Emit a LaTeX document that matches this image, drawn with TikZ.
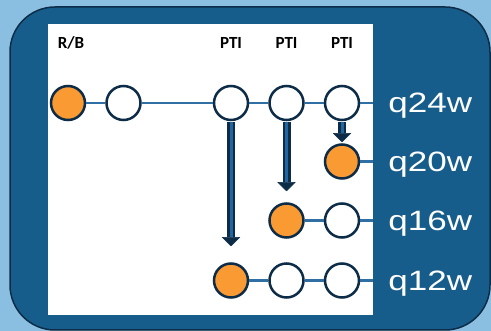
\documentclass[tikz,border=0pt]{standalone}
\usepackage{fontspec}
\newfontfamily\hdfont{Carlito}
\newfontfamily\qfont[FakeStretch=1.25]{Liberation Sans}
\usetikzlibrary{positioning,arrows.meta}
\definecolor{sky}{HTML}{8BBFE1}
\definecolor{frame}{HTML}{175D8C}
\definecolor{navy}{HTML}{0C2C47}
\definecolor{orng}{HTML}{F99A33}
\definecolor{wireblue}{HTML}{2F6FA3}
\definecolor{shaft}{HTML}{2066A0}
\tikzset{
  qb/.style={circle, draw=navy, line width=2.5pt, fill=white,
             minimum size=34pt, inner sep=0pt},
  hd/.style={font=\hdfont\bfseries\fontsize{17}{18}\selectfont, inner sep=0pt},
  lbl/.style={font=\qfont\fontsize{28}{30}\selectfont, text=white, inner sep=0pt},
  link/.style={draw=wireblue, line width=2.5pt},
  mv/.style={draw=navy, line width=8pt,
             -{Triangle[width=18pt,length=9pt,line width=0.5pt]},
             postaction={draw=shaft, line width=3pt, -, shorten >=9pt}},
}

\begin{document}
\begin{tikzpicture}[x=1pt, y=-1pt, node distance=19pt]
  \fill[sky] (0,0) rectangle (491,331);
  \filldraw[fill=frame, draw=navy, line width=1.5pt, rounded corners=45pt]
    (10,7) rectangle (490,330);
  \node[fill=white, minimum width=325pt, minimum height=291pt, inner sep=0pt]
    (panel) at (210.5,169.5) {};

  % top row
  \node[qb, fill=orng] (rb) at (68,103) {};
  \node[qb, right=of rb] (w1) {};
  \node[qb, right=71pt of w1] (p1) {};
  \node[qb, right=of p1] (p2) {};
  \node[qb, right=of p2] (p3) {};

  % moved rows
  \node[qb, fill=orng, below=22pt of p3] (o20) {};
  \node[qb, fill=orng, below=81pt of p2] (o16) {};
  \node[qb, right=of o16] (w16) {};
  \node[qb, fill=orng, below=141pt of p1] (o12) {};
  \node[qb, right=of o12] (a12) {};
  \node[qb, right=of a12] (b12) {};

  % headers
  \coordinate (hdline) at (0,49);
  \node[hd, anchor=base] (hrb) at (71,49) {R/B};
  \node[hd, anchor=base] (h1) at (p1 |- hdline) {PTI};
  \node[hd, anchor=base] (h2) at (p2 |- hdline) {PTI};
  \node[hd, anchor=base] (h3) at (p3 |- hdline) {PTI};

  % wire ends at the panel edge
  \coordinate (e24) at (p3 -| panel.east);
  \coordinate (e20) at (o20 -| panel.east);
  \coordinate (e16) at (w16 -| panel.east);
  \coordinate (e12) at (b12 -| panel.east);

  \draw[link] (rb) -- (w1);
  \draw[link] (w1) -- (p1);
  \draw[link] (p1) -- (p2);
  \draw[link] (p2) -- (p3);
  \draw[link] (p3) -- (e24);
  \draw[link] (o20) -- (e20);
  \draw[link] (o16) -- (w16);
  \draw[link] (w16) -- (e16);
  \draw[link] (o12) -- (a12);
  \draw[link] (a12) -- (b12);
  \draw[link] (b12) -- (e12);

  \node[lbl, anchor=base west] (l24) at ([xshift=15pt,yshift=-10pt]e24) {q24w};
  \node[lbl, anchor=base west] (l20) at ([xshift=15pt,yshift=-10pt]e20) {q20w};
  \node[lbl, anchor=base west] (l16) at ([xshift=15pt,yshift=-10pt]e16) {q16w};
  \node[lbl, anchor=base west] (l12) at ([xshift=15pt,yshift=-10pt]e12) {q12w};

  % moves
  \draw[mv] ([yshift=-1pt]p1.south) -- ([yshift=16pt]o12.north);
  \draw[mv] ([yshift=-1pt]p2.south) -- ([yshift=11pt]o16.north);
  \draw[mv] ([yshift=-1pt]p3.south) -- ([yshift=1pt]o20.north);
\end{tikzpicture}
\end{document}
